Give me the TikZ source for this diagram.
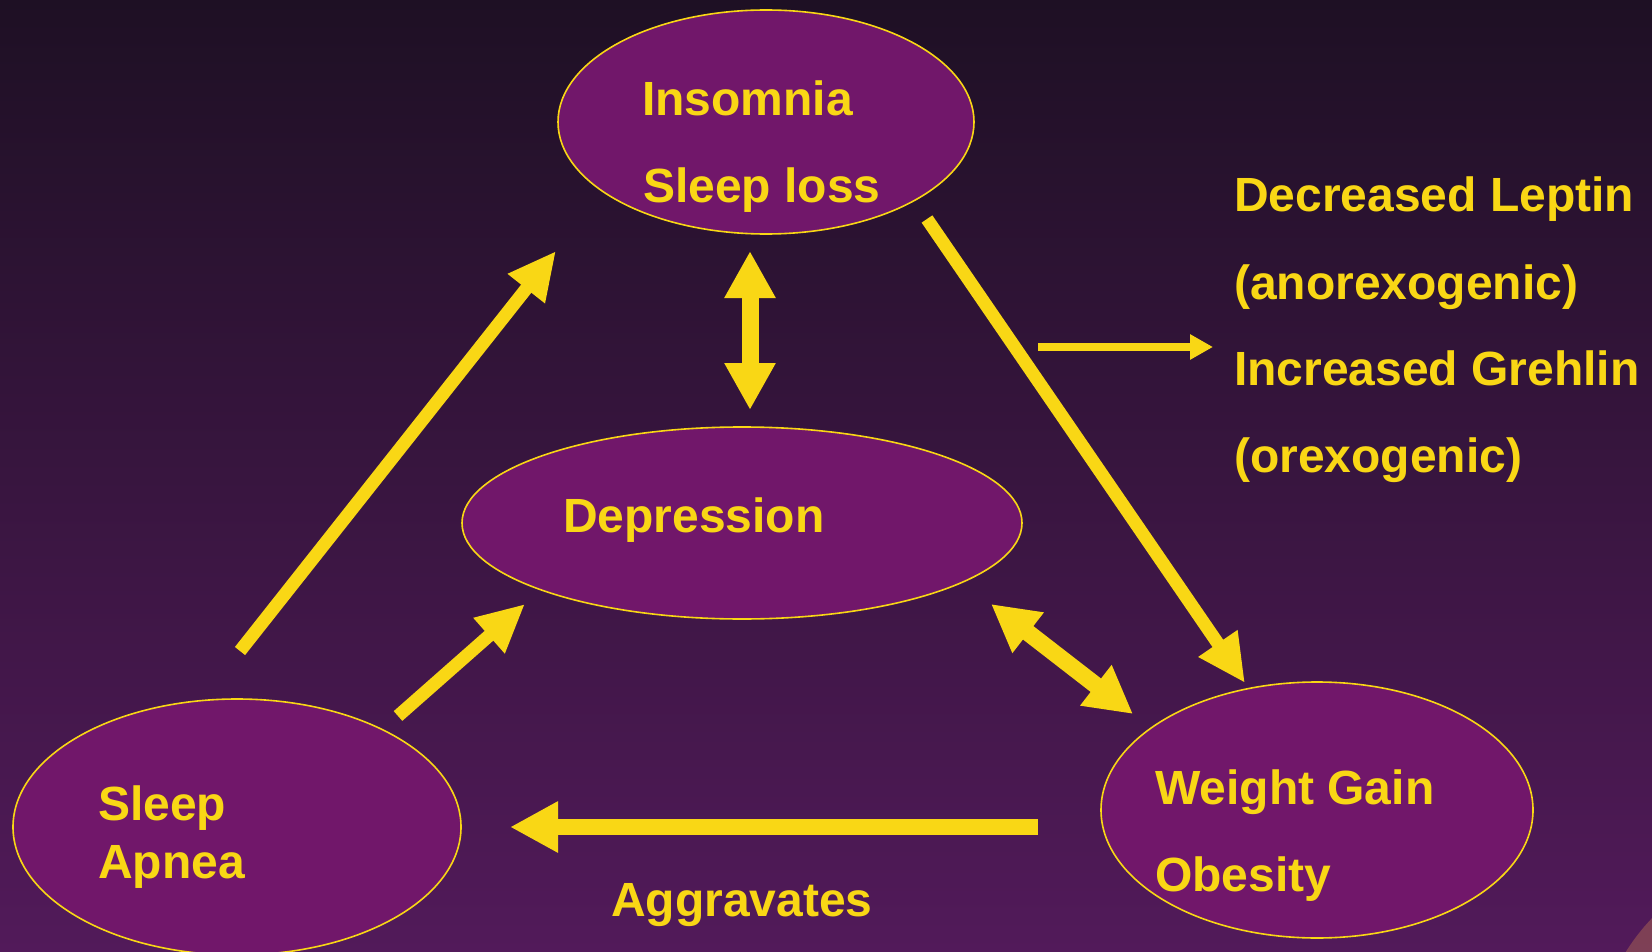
\documentclass[tikz,border=0pt]{standalone}
\usepackage{fontspec}
\setmainfont{Liberation Sans}
\usetikzlibrary{arrows.meta,shapes.geometric}
\definecolor{bgtop}{HTML}{1E1024}
\definecolor{bgbot}{HTML}{521A5A}
\definecolor{ellfill}{HTML}{71176A}
\definecolor{gold}{HTML}{F9D715}
\definecolor{glow}{HTML}{8A4A55}
\begin{document}
\begin{tikzpicture}[x=1pt,y=-1pt,
  bubble/.style={draw=gold, line width=1.6pt, fill=ellfill, ellipse, inner sep=0pt},
  lbl/.style={text=gold, font=\bfseries\fontsize{48}{56}\selectfont, anchor=base west, inner sep=0pt},
  thinarrow/.style={draw=gold, line width=13pt, -{Triangle[length=48pt,width=44pt]}},
  fatarrow/.style={draw=gold, line width=17pt, {Triangle[length=47pt,width=48pt]}-{Triangle[length=47pt,width=48pt]}},
]
\useasboundingbox (0,0) rectangle (1652,952);
\shade[top color=bgtop, bottom color=bgbot] (0,0) rectangle (1652,952);
\begin{scope}
  \clip (0,0) rectangle (1652,952);
  \fill[glow, opacity=0.8] (1800,1060) circle (205);
\end{scope}

% bubbles
\node[bubble, minimum width=416pt, minimum height=224pt] (ins) at (766,122) {};
\node[bubble, minimum width=560pt, minimum height=192pt] (dep) at (742,523) {};
\node[bubble, minimum width=448pt, minimum height=256pt] (apn) at (237,827) {};
\node[bubble, minimum width=432pt, minimum height=256pt] (wg) at (1317,810) {};

% labels
\node[lbl] (t1) at (642,116) {Insomnia};
\node[lbl] (t2) at (643,203) {Sleep loss};
\node[lbl] (t3) at (563,532) {Depression};
\node[lbl] (t4) at (98,820) {Sleep};
\node[lbl] (t5) at (98,878) {Apnea};
\node[lbl] (t6) at (1155,804) {Weight Gain};
\node[lbl] (t7) at (1155,891) {Obesity};
\node[lbl] (t8) at (611,916) {Aggravates};
\node[lbl] (h1) at (1234,212) {Decreased Leptin};
\node[lbl] (h2) at (1234,299) {(anorexogenic)};
\node[lbl] (h3) at (1234,385) {Increased Grehlin};
\node[lbl] (h4) at (1234,472) {(orexogenic)};

% arrow end points
\coordinate (a1s) at (240,651);  \coordinate (a1e) at (556,251);
\coordinate (a2s) at (750,251);  \coordinate (a2e) at (750,410);
\coordinate (a3s) at (927,219);  \coordinate (a3e) at (1245,683);
\coordinate (a4s) at (398,716);  \coordinate (a4e) at (525,604);
\coordinate (a5s) at (991,604);  \coordinate (a5e) at (1133,714);
\coordinate (a6s) at (1038,827); \coordinate (a6e) at (510,827);
\coordinate (a7s) at (1038,347); \coordinate (a7e) at (1213,347);

\draw[thinarrow] (a1s) -- (a1e);
\draw[fatarrow] (a2s) -- (a2e);
\draw[thinarrow] (a3s) -- (a3e);
\draw[thinarrow] (a4s) -- (a4e);
\draw[fatarrow] (a5s) -- (a5e);
\draw[draw=gold, line width=16pt, -{Triangle[length=48pt,width=48pt]}] (a6s) -- (a6e);
\draw[draw=gold, line width=8pt, -{Triangle[length=23pt,width=24pt]}] (a7s) -- (a7e);
\end{tikzpicture}
\end{document}
